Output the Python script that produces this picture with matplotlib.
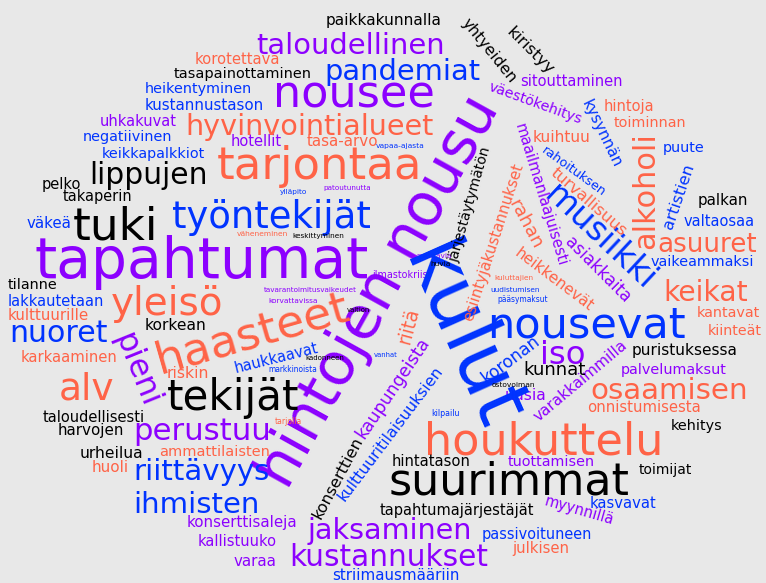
import matplotlib
matplotlib.use("Agg")
import matplotlib.pyplot as plt
from matplotlib.font_manager import FontProperties
from matplotlib.textpath import TextPath

# word groups (colour classes of the cloud)
PURPLE_WORDS = [
    "taloudellinen", "nousee", "hotellit", "patoutunutta", "uhkakuvat",
    "tapahtumat", "tavarantoimitusvaikeudet", "korvattavissa", "maksavia",
    "ilmastokriisi", "hintojen nousu", "sitouttaminen", "väestökehitys",
    "maailmanlaajuisesti", "asiakkaita", "iso", "uusia", "varakkaimmilla",
    "palvelumaksut", "pieni", "perustuu", "kaupungeista", "konserttisaleja",
    "kallistuuko", "varaa", "jaksaminen", "kustannukset", "tuottamisen",
    "myynnillä",
]
BLUE_WORDS = [
    "heikentyminen", "kustannustason", "negatiivinen", "keikkapalkkiot",
    "pandemiat", "vapaa-ajasta", "ylläpito", "työntekijät", "väkeä",
    "lakkautetaan", "nuoret", "haukkaavat", "markkinoista", "vanhat",
    "uudistumisen", "pääsymaksut", "kulut", "nousevat", "koronan",
    "kulttuuritilaisuuksien", "rahoituksen", "kysynnän", "puute", "artistien",
    "valtaosaa", "vaikeammaksi", "musiikki", "riittävyys", "ihmisten",
    "kilpailu", "passivoituneen", "kasvavat", "striimausmääriin",
]
CORAL_WORDS = [
    "korotettava", "hyvinvointialueet", "tasa-arvo", "tarjontaa",
    "väheneminen", "yleisö", "kulttuurille", "karkaaminen", "haasteet",
    "riskin", "alv", "kuluttajien", "rahan", "heikkenevät", "riitä",
    "esiintyjäkustannukset", "turvallisuus", "kuihtuu", "hintoja",
    "toiminnan", "alkoholi", "asuuret", "keikat", "kantavat", "kiinteät",
    "osaamisen", "onnistumisesta", "houkuttelu", "tarjolla",
    "ammattilaisten", "huoli", "julkisen",
]
BLACK_WORDS = [
    "paikkakunnalla", "tasapainottaminen", "yhtyeiden", "kiristyy",
    "lippujen", "pelko", "takaperin", "tuki", "keskittyminen", "tilanne",
    "korkean", "valtion", "kadonneen", "huvia", "järjestäytymätön", "palkan",
    "puristuksessa", "kunnat", "ostovoiman", "tekijät", "taloudellisesti",
    "harvojen", "urheilua", "konserttien", "hintatason", "suurimmat",
    "tapahtumajärjestäjät", "toimijat", "kehitys",
]

# word length in the cloud (px along the baseline) - stands for frequency
WORD_LENGTH = {
    "taloudellinen": 195, "nousee": 164, "hotellit": 52, "patoutunutta": 49,
    "uhkakuvat": 79, "tapahtumat": 349, "tavarantoimitusvaikeudet": 98,
    "korvattavissa": 51, "maksavia": 36, "ilmastokriisi": 59,
    "hintojen nousu": 450, "sitouttaminen": 105, "väestökehitys": 102,
    "maailmanlaajuisesti": 152, "asiakkaita": 87, "iso": 43, "uusia": 41,
    "varakkaimmilla": 121, "palvelumaksut": 110, "pieni": 75,
    "perustuu": 139, "kaupungeista": 120, "konserttisaleja": 113,
    "kallistuuko": 80, "varaa": 43, "jaksaminen": 171, "kustannukset": 206,
    "tuottamisen": 90, "myynnillä": 72,
    "heikentyminen": 110, "kustannustason": 122, "negatiivinen": 91,
    "keikkapalkkiot": 107, "pandemiat": 160, "vapaa-ajasta": 50,
    "ylläpito": 28, "työntekijät": 207, "väkeä": 45, "lakkautetaan": 98,
    "nuoret": 100, "haukkaavat": 88, "markkinoista": 50, "vanhat": 25,
    "uudistumisen": 51, "pääsymaksut": 52, "kulut": 195, "nousevat": 204,
    "koronan": 69, "kulttuuritilaisuuksien": 171, "rahoituksen": 77,
    "kysynnän": 74, "puute": 42, "artistien": 69, "valtaosaa": 73,
    "vaikeammaksi": 107, "musiikki": 140, "riittävyys": 139, "ihmisten": 127,
    "kilpailu": 28, "passivoituneen": 113, "kasvavat": 68,
    "striimausmääriin": 132,
    "korotettava": 87, "hyvinvointialueet": 258, "tasa-arvo": 74,
    "tarjontaa": 210, "väheneminen": 53, "yleisö": 115, "kulttuurille": 83,
    "karkaaminen": 98, "haasteet": 205, "riskin": 42, "alv": 55,
    "kuluttajien": 40, "rahan": 53, "heikkenevät": 97, "riitä": 35,
    "esiintyjäkustannukset": 173, "turvallisuus": 99, "kuihtuu": 58,
    "hintoja": 50, "toiminnan": 75, "alkoholi": 118, "asuuret": 102,
    "keikat": 86, "kantavat": 65, "kiinteät": 55, "osaamisen": 162,
    "onnistumisesta": 117, "houkuttelu": 244, "tarjolla": 27,
    "ammattilaisten": 113, "huoli": 36, "julkisen": 59,
    "paikkakunnalla": 119, "tasapainottaminen": 142, "yhtyeiden": 80,
    "kiristyy": 61, "lippujen": 119, "pelko": 39, "takaperin": 71,
    "tuki": 84, "keskittyminen": 53, "tilanne": 51, "korkean": 62,
    "valtion": 24, "kadonneen": 40, "huvia": 20, "järjestäytymätön": 125,
    "palkan": 50, "puristuksessa": 108, "kunnat": 64, "ostovoiman": 45,
    "tekijät": 137, "taloudellisesti": 105, "harvojen": 67, "urheilua": 64,
    "konserttien": 92, "hintatason": 80, "suurimmat": 250,
    "tapahtumajärjestäjät": 161, "toimijat": 55, "kehitys": 52,
}

# cloud layout: centre x, centre y (pixels from top-left), rotation
LAYOUT = {
    "taloudellinen": (351, 46, 0), "nousee": (354, 94, 0),
    "hotellit": (256, 142, 0), "patoutunutta": (347, 188, 0),
    "uhkakuvat": (138, 121, 0), "tapahtumat": (202, 263, 0),
    "tavarantoimitusvaikeudet": (310, 290, 0), "korvattavissa": (293, 301, 0),
    "maksavia": (434, 256, 0), "ilmastokriisi": (401, 275, 0),
    "hintojen nousu": (379, 292, 61), "sitouttaminen": (571, 82, 0),
    "väestökehitys": (535, 103, -20), "maailmanlaajuisesti": (541, 195, -73),
    "asiakkaita": (598, 270, -45), "iso": (563, 355, 0),
    "uusia": (526, 396, 0), "varakkaimmilla": (581, 381, 40),
    "palvelumaksut": (674, 370, 0), "pieni": (136, 370, -68),
    "perustuu": (202, 432, 0), "kaupungeista": (393, 388, 56),
    "konserttisaleja": (242, 523, 0), "kallistuuko": (237, 542, 0),
    "varaa": (255, 561, 0), "jaksaminen": (390, 531, 0),
    "kustannukset": (389, 557, 0), "tuottamisen": (551, 462, 0),
    "myynnillä": (579, 511, -16),
    "heikentyminen": (198, 89, 0), "kustannustason": (204, 106, 0),
    "negatiivinen": (127, 137, 0), "keikkapalkkiot": (153, 154, 0),
    "pandemiat": (402, 72, 0), "vapaa-ajasta": (400, 146, 0),
    "ylläpito": (293, 192, 0), "työntekijät": (271, 218, 0),
    "väkeä": (49, 223, 0), "lakkautetaan": (56, 302, 0),
    "nuoret": (58, 333, 0), "haukkaavat": (276, 358, 14),
    "markkinoista": (293, 370, 0), "vanhat": (386, 355, 0),
    "uudistumisen": (515, 290, 0), "pääsymaksut": (523, 300, 0),
    "kulut": (461, 338, -66), "nousevat": (586, 325, 0),
    "koronan": (511, 359, 37), "kulttuuritilaisuuksien": (391, 434, 53),
    "rahoituksen": (574, 172, -36), "kysynnän": (601, 134, -64),
    "puute": (684, 148, 0), "artistien": (679, 196, 71),
    "valtaosaa": (719, 222, 0), "vaikeammaksi": (702, 262, 0),
    "musiikki": (600, 237, -43), "riittävyys": (202, 472, 0),
    "ihmisten": (196, 505, 0), "kilpailu": (446, 413, 0),
    "passivoituneen": (537, 534, 0), "kasvavat": (623, 503, 0),
    "striimausmääriin": (396, 576, 0),
    "korotettava": (237, 60, 0), "hyvinvointialueet": (310, 127, 0),
    "tasa-arvo": (342, 141, 0), "tarjontaa": (319, 166, 0),
    "väheneminen": (262, 234, 0), "yleisö": (167, 304, 0),
    "kulttuurille": (48, 316, 0), "karkaaminen": (69, 357, 0),
    "haasteet": (252, 334, 16), "riskin": (188, 373, 0),
    "alv": (87, 389, 0), "kuluttajien": (514, 278, 0),
    "rahan": (525, 224, -62), "heikkenevät": (554, 280, -37),
    "riitä": (409, 326, 75), "esiintyjäkustannukset": (493, 242, 72),
    "turvallisuus": (588, 202, -41), "kuihtuu": (562, 138, 0),
    "hintoja": (629, 106, 0), "toiminnan": (650, 123, 0),
    "alkoholi": (646, 191, 90), "asuuret": (707, 245, 0),
    "keikat": (706, 293, 0), "kantavat": (728, 313, 0),
    "kiinteät": (735, 331, 0), "osaamisen": (669, 391, 0),
    "onnistumisesta": (644, 408, 0), "houkuttelu": (544, 442, 0),
    "tarjolla": (288, 421, 0), "ammattilaisten": (215, 452, 0),
    "huoli": (110, 467, 0), "julkisen": (541, 549, 0),
    "paikkakunnalla": (384, 21, 0), "tasapainottaminen": (243, 74, 0),
    "yhtyeiden": (489, 51, -51), "kiristyy": (530, 51, -45),
    "lippujen": (148, 176, 0), "pelko": (61, 184, 0),
    "takaperin": (97, 197, 0), "tuki": (115, 227, 0),
    "keskittyminen": (318, 236, 0), "tilanne": (32, 285, 0),
    "korkean": (176, 326, 0), "valtion": (358, 310, 0),
    "kadonneen": (325, 358, 0), "huvia": (441, 264, 0),
    "järjestäytymätön": (470, 205, 74), "palkan": (723, 201, 0),
    "puristuksessa": (685, 351, 0), "kunnat": (555, 370, 0),
    "ostovoiman": (513, 385, 0), "tekijät": (233, 398, 0),
    "taloudellisesti": (94, 418, 0), "harvojen": (91, 430, 0),
    "urheilua": (111, 454, 0), "konserttien": (338, 478, 62),
    "hintatason": (431, 462, 0), "suurimmat": (509, 482, 0),
    "tapahtumajärjestäjät": (457, 511, 0), "toimijat": (665, 470, 0),
    "kehitys": (697, 426, 0),
}

GROUP_COLORS = {
    "purple": "#8c00ff",
    "blue": "#0033ff",
    "coral": "#ff6347",
    "black": "#000000",
}
BG = "#e8e8e8"
W, H, DPI = 766, 583, 100
FONT = FontProperties(family="DejaVu Sans")
# DejaVu has a taller x-height than the cloud's font, shrink a little
SHRINK = 0.95


def font_size_for(word, length_px):
    # ink width of the word at 1 px em, scaled to the wanted length
    ink = TextPath((0, 0), word, size=1, prop=FONT).get_extents().width
    em_px = SHRINK * length_px / ink
    return em_px * 72 / DPI


def main():
    fig = plt.figure(figsize=(W / DPI, H / DPI), dpi=DPI, facecolor=BG)
    ax = fig.add_axes([0, 0, 1, 1])
    ax.set_facecolor(BG)
    ax.set_xlim(0, W)
    ax.set_ylim(H, 0)
    ax.axis("off")

    groups = [
        (PURPLE_WORDS, "purple"), (BLUE_WORDS, "blue"),
        (CORAL_WORDS, "coral"), (BLACK_WORDS, "black"),
    ]
    for words, key in groups:
        for word in words:
            x, y, rot = LAYOUT[word]
            ax.text(
                x, y, word,
                fontproperties=FONT,
                fontsize=font_size_for(word, WORD_LENGTH[word]),
                color=GROUP_COLORS[key],
                rotation=rot, rotation_mode="anchor",
                ha="center", va="center",
            )

    fig.savefig("out.png", dpi=DPI, facecolor=BG)


if __name__ == "__main__":
    main()
